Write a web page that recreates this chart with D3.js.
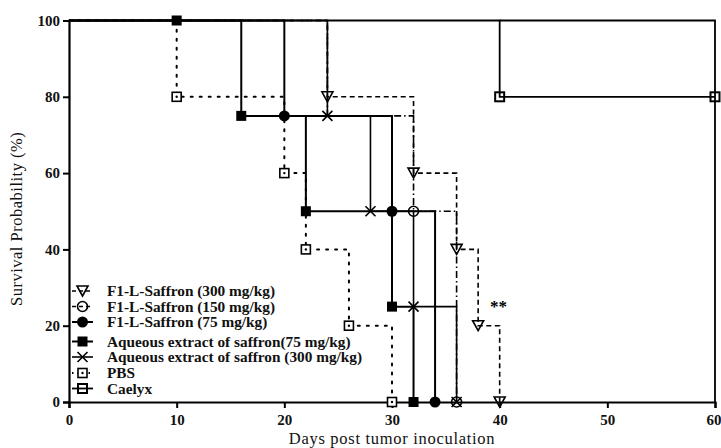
<!DOCTYPE html>
<html><head><meta charset="utf-8">
<script src="https://cdn.jsdelivr.net/npm/d3@7"></script>
<style>
html,body{margin:0;padding:0;background:#fff;}
svg{display:block;}
</style></head>
<body>
<svg id="chart" width="721" height="448"></svg>
<script>
// ---- data ----
const seriesNames = ["F1-L-Saffron (300 mg/kg)","F1-L-Saffron (150 mg/kg)","F1-L-Saffron (75 mg/kg)","Aqueous extract of saffron(75 mg/kg)","Aqueous extract of saffron (300 mg/kg)","PBS","Caelyx"];
const f1l300Days = [24,32,36,38,40];
const f1l300Surv = [80,60,40,20,0];
const f1l150Days = [24,32,36];
const f1l150Surv = [75,50,0];
const f1l150Shown = [false,true,true];
const f1l75Days = [20,30,34];
const f1l75Surv = [75,50,0];
const aq75Days = [10,16,22,30,32];
const aq75Surv = [100,75,50,25,0];
const aq300Days = [24,28,32,36];
const aq300Surv = [75,50,25,0];
const pbsDays = [10,20,22,26,30];
const pbsSurv = [80,60,40,20,0];
const caelyxDays = [40,60];
const caelyxSurv = [80,80];
const xTicks = [0,10,20,30,40,50,60];
const yTicks = [0,20,40,60,80,100];

// ---- setup ----
const svg = d3.select("#chart");
const x = d3.scaleLinear().domain([0,60]).range([69,715]);
const y = d3.scaleLinear().domain([0,100]).range([402,20.5]);
const serif = "'Liberation Serif','DejaVu Serif',serif";

const styles = [
  {dash:"5,3.5", w:1.6, marker:"tri"},
  {dash:"7,3,1.5,3", w:1.6, marker:"ocircle"},
  {dash:null, w:2, marker:"fcircle"},
  {dash:null, w:2, marker:"fsquare"},
  {dash:null, w:1.6, marker:"cross"},
  {dash:"2,7", w:2, marker:"dsquare"},
  {dash:null, w:1.8, marker:"hsquare"}
];
const series = [
  [f1l300Days,f1l300Surv],[f1l150Days,f1l150Surv,f1l150Shown],[f1l75Days,f1l75Surv],
  [aq75Days,aq75Surv],[aq300Days,aq300Surv],[pbsDays,pbsSurv],[caelyxDays,caelyxSurv]
];

function stepPoints(days, surv){
  const pts=[[0,100]]; let prev=100;
  days.forEach((d,i)=>{ pts.push([d,prev]); pts.push([d,surv[i]]); prev=surv[i]; });
  return pts;
}
const line = d3.line().x(d=>x(d[0])).y(d=>y(d[1]));

function drawMarker(g, type, cx, cy){
  const s=5;
  if(type==="tri"){
    g.append("path").attr("d",`M${cx-5.5},${cy-5}L${cx+5.5},${cy-5}L${cx},${cy+5}Z`)
     .attr("fill","none").attr("stroke","#000").attr("stroke-width",1.6);
  } else if(type==="ocircle"){
    g.append("circle").attr("cx",cx).attr("cy",cy).attr("r",5).attr("fill","none").attr("stroke","#000").attr("stroke-width",1.6);
  } else if(type==="fcircle"){
    g.append("circle").attr("cx",cx).attr("cy",cy).attr("r",5.5).attr("fill","#000");
  } else if(type==="fsquare"){
    g.append("rect").attr("x",cx-s).attr("y",cy-s).attr("width",2*s).attr("height",2*s).attr("fill","#000");
  } else if(type==="cross"){
    g.append("path").attr("d",`M${cx-5},${cy-5}L${cx+5},${cy+5}M${cx-5},${cy+5}L${cx+5},${cy-5}`)
     .attr("stroke","#000").attr("stroke-width",1.6).attr("fill","none");
  } else if(type==="dsquare"){
    g.append("rect").attr("x",cx-4.5).attr("y",cy-4.5).attr("width",9).attr("height",9).attr("fill","#fff").attr("stroke","#000").attr("stroke-width",1.6);
    g.append("circle").attr("cx",cx).attr("cy",cy).attr("r",1.2).attr("fill","#000");
  } else if(type==="hsquare"){
    g.append("rect").attr("x",cx-4.5).attr("y",cy-4.5).attr("width",9).attr("height",9).attr("fill","none").attr("stroke","#000").attr("stroke-width",2);
  }
}

// frame-like right edge
const gf = svg.append("g");
gf.append("path").attr("d",line([[40,100],[60,100],[60,0]])).attr("fill","none").attr("stroke","#000").attr("stroke-width",1.8);

// curves: dotted first, then dashed, then solid
const order=[5,0,1,6,4,2,3];
const gl = svg.append("g");
order.forEach(i=>{
  const [days,surv]=series[i]; const st=styles[i];
  gl.append("path").attr("d",line(stepPoints(days,surv)))
    .attr("fill","none").attr("stroke","#000").attr("stroke-width",st.w)
    .attr("stroke-dasharray",st.dash).attr("stroke-linecap", i===5?"round":"butt");
});

// axes
const gx = svg.append("g").attr("transform",`translate(0,${y(0)})`)
  .call(d3.axisBottom(x).tickValues(xTicks).tickSize(6).tickPadding(6).tickFormat(d3.format("d")));
const gy = svg.append("g").attr("transform",`translate(${x(0)},0)`)
  .call(d3.axisLeft(y).tickValues(yTicks).tickSize(6).tickPadding(3).tickFormat(d3.format("d")));
[gx,gy].forEach(g=>{
  g.select(".domain").attr("stroke-width",2.2).attr("stroke","#000");
  g.selectAll(".tick line").attr("stroke-width",2).attr("stroke","#000");
  g.selectAll(".tick text").attr("font-family",serif).attr("font-weight","bold").attr("font-size",15).attr("fill","#111");
});
// keep the last x tick label inside the window
gx.selectAll(".tick text").filter(d=>d===60).attr("text-anchor","end").attr("dx","6");

// markers
const gm = svg.append("g");
series.forEach(([days,surv,shown],i)=>{
  days.forEach((d,j)=>{ if(!shown || shown[j]) drawMarker(gm, styles[i].marker, x(d), y(surv[j])); });
});

// significance
svg.append("text").attr("x",x(39.9)).attr("y",y(25.4)+7).attr("text-anchor","middle")
  .attr("font-family",serif).attr("font-weight","bold").attr("font-size",17).text("**");

// axis titles
svg.append("text").attr("x",x(30)).attr("y",443.5).attr("text-anchor","middle")
  .attr("font-family",serif).attr("font-size",16.5).attr("fill","#111").attr("letter-spacing","0.7")
  .text("Days post tumor inoculation");
svg.append("text").attr("transform",`translate(22,${y(48)}) rotate(-90)`).attr("text-anchor","middle")
  .attr("font-family",serif).attr("font-size",16.5).attr("fill","#111").attr("letter-spacing","0.5")
  .text("Survival Probability (%)");

// legend
const legY=[291,306.5,322,341.5,357,373,388.5];
const gleg = svg.append("g");
seriesNames.forEach((name,i)=>{
  const st=styles[i]; const ly=legY[i];
  gleg.append("line").attr("x1",72).attr("x2",93).attr("y1",ly).attr("y2",ly)
    .attr("stroke","#000").attr("stroke-width",st.w).attr("stroke-dasharray", st.dash? (i===5?"1.5,4":"4,3") : null);
  drawMarker(gleg, st.marker, 82.5, ly);
  gleg.append("text").attr("x",107).attr("y",ly+5)
    .attr("font-family",serif).attr("font-weight","bold").attr("font-size",15.3).attr("fill","#111")
    .text(name);
});
</script>
</body></html>
